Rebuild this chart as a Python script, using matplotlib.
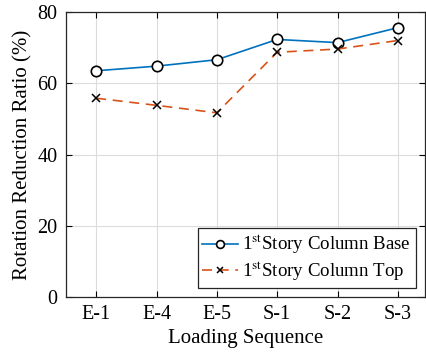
import numpy as np
import matplotlib
matplotlib.use("Agg")
from matplotlib import pyplot as plt

plt.rcParams['font.family'] = ['Liberation Serif', 'DejaVu Serif']
plt.rcParams['mathtext.fontset'] = 'stix'

categories = ["E-1", "E-4", "E-5", "S-1", "S-2", "S-3"]
col_base = [63.5, 64.8, 66.6, 72.3, 71.4, 75.6]
col_top = [55.8, 53.8, 51.7, 68.7, 69.6, 72.0]

fig = plt.figure(figsize=(4.27, 3.54), dpi=100)
ax = fig.add_axes([66 / 427, 57 / 354, 359 / 427, 285 / 354])

x = np.arange(len(categories))
ax.plot(x, col_base, color='#0072BD', lw=1.2, marker='o', ms=7.5,
        mfc='white', mec='black', mew=1.2,
        label=r'1$^{\rm st}$Story Column Base')
ax.plot(x, col_top, color='#D95319', lw=1.2, ls=(0, (6, 4)), marker='x', ms=5.5,
        mec='black', mew=1.1,
        label=r'1$^{\rm st}$Story Column Top')

ax.set_xlim(-0.5, 5.45)
ax.set_ylim(0, 80)
ax.set_xticks(x)
ax.set_xticklabels(categories)
ax.set_yticks([0, 20, 40, 60, 80])
ax.grid(True, color='#dcdcdc', lw=0.8)
ax.set_axisbelow(True)
ax.tick_params(direction='in', top=True, right=True, labelsize=14.5, length=4.5,
               width=0.8, pad=6)
for s in ax.spines.values():
    s.set_linewidth(0.9)
    s.set_color('#262626')

ax.set_xlabel('Loading Sequence', fontsize=15, labelpad=3)
ax.set_ylabel('Rotation Reduction Ratio (%)', fontsize=15, labelpad=4)

leg = ax.legend(loc='lower right', fontsize=13.6, fancybox=False, framealpha=1,
                edgecolor='#262626', handlelength=1.9, handletextpad=0.2,
                borderpad=0.25, labelspacing=0.15, borderaxespad=0.5,
                markerscale=0.75)
leg.get_frame().set_linewidth(0.9)

fig.savefig('out.png', dpi=100)
